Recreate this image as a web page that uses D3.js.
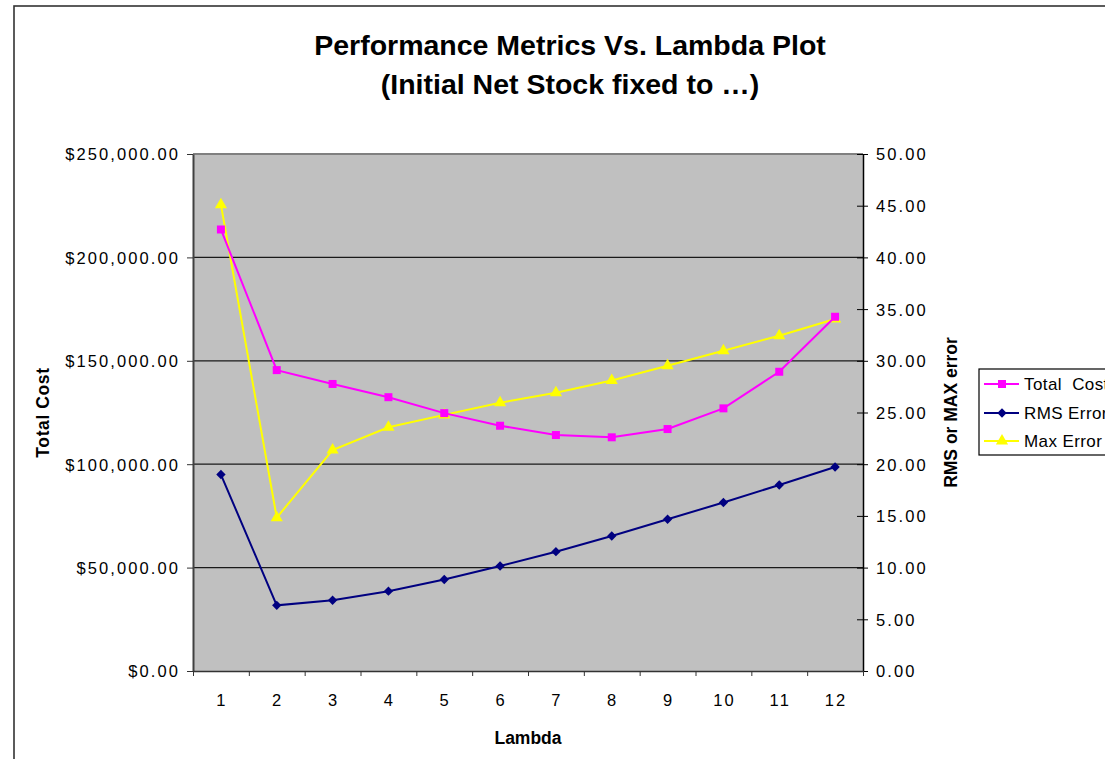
<!DOCTYPE html>
<html>
<head>
<meta charset="utf-8">
<script src="https://cdn.jsdelivr.net/npm/d3@7"></script>
<style>
  html, body { margin: 0; padding: 0; background: #fff; overflow: hidden; }
  svg { display: block; font-family: "Liberation Sans", Arial, sans-serif; }
</style>
</head>
<body>
<svg id="chart" width="1105" height="759"></svg>
<script>
// Lambda values on the category axis
const lambdas = [1, 2, 3, 4, 5, 6, 7, 8, 9, 10, 11, 12];
// Total cost per lambda (left axis, dollars)
const totalCost = [213500, 145500, 138800, 132400, 124700, 118600, 114100, 113000, 117000, 127000, 144700, 171300];
// RMS error per lambda (right axis)
const rmsError = [19.0, 6.35, 6.84, 7.72, 8.85, 10.15, 11.54, 13.06, 14.67, 16.30, 17.99, 19.73];
// Max error per lambda (right axis)
const maxError = [45.1, 14.83, 21.37, 23.57, 24.77, 25.95, 26.92, 28.10, 29.53, 30.98, 32.43, 34.04];
// Axis tick values
const costTicks = [0, 50000, 100000, 150000, 200000, 250000];
const errorTicks = [0, 5, 10, 15, 20, 25, 30, 35, 40, 45, 50];
const seriesNames = ["Total  Cost", "RMS Error", "Max Error"];

const svg = d3.select("#chart");
const plot = { left: 193, right: 863, top: 154, bottom: 671 };

const x = d3.scaleLinear().domain([0.5, 12.5]).range([plot.left, plot.right]);
const yCost = d3.scaleLinear().domain([0, 250000]).range([plot.bottom, plot.top]);
const yErr = d3.scaleLinear().domain([0, 50]).range([plot.bottom, plot.top]);

// Outer chart frame
svg.append("rect")
  .attr("x", 14).attr("y", 6).attr("width", 1200).attr("height", 800)
  .attr("fill", "#fff").attr("stroke", "#333").attr("stroke-width", 1.6);

// Title
const title = svg.append("text")
  .attr("text-anchor", "middle")
  .attr("font-size", 28.5).attr("font-weight", "bold").attr("fill", "#000");
title.append("tspan").attr("x", 570).attr("y", 55).text("Performance Metrics Vs. Lambda Plot");
title.append("tspan").attr("x", 570).attr("y", 94).text("(Initial Net Stock fixed to …)");

// Plot background
svg.append("rect")
  .attr("x", plot.left).attr("y", plot.top)
  .attr("width", plot.right - plot.left).attr("height", plot.bottom - plot.top)
  .attr("fill", "#c0c0c0");

// Horizontal gridlines at left-axis ticks
svg.append("g").selectAll("line")
  .data(costTicks.filter(d => d > 0 && d < 250000))
  .join("line")
  .attr("x1", plot.left).attr("x2", plot.right)
  .attr("y1", d => yCost(d)).attr("y2", d => yCost(d))
  .attr("stroke", "#1a1a1a").attr("stroke-width", 1.2);

// Top border of the plot area
svg.append("line")
  .attr("x1", plot.left).attr("x2", plot.right)
  .attr("y1", plot.top).attr("y2", plot.top)
  .attr("stroke", "#808080").attr("stroke-width", 2);

const tickFont = 16.5;
const tickSpacing = "2.1px";

// Left axis
const leftAxis = svg.append("g")
  .attr("transform", `translate(${plot.left},0)`)
  .call(d3.axisLeft(yCost).tickValues(costTicks).tickSize(6).tickSizeOuter(0)
    .tickFormat(d => "$" + d3.format(",.2f")(d)));
leftAxis.select(".domain").attr("stroke", "#404040").attr("stroke-width", 2);
leftAxis.selectAll(".tick line").attr("stroke", "#333");
leftAxis.selectAll(".tick text")
  .attr("x", -13).attr("dy", "0.36em")
  .attr("font-size", tickFont).attr("letter-spacing", tickSpacing)
  .attr("font-family", "Liberation Sans, Arial, sans-serif").attr("fill", "#000");

// Right axis (ticks cross the axis line)
const rightAxis = svg.append("g")
  .attr("transform", `translate(${plot.right},0)`)
  .call(d3.axisRight(yErr).tickValues(errorTicks).tickSize(5).tickSizeOuter(0)
    .tickFormat(d3.format(".2f")));
rightAxis.select(".domain").attr("stroke", "#000").attr("stroke-width", 1.5);
rightAxis.selectAll(".tick line").attr("x1", -6).attr("x2", 5).attr("stroke", "#000");
rightAxis.selectAll(".tick text")
  .attr("x", 13).attr("dy", "0.36em")
  .attr("font-size", tickFont).attr("letter-spacing", tickSpacing)
  .attr("font-family", "Liberation Sans, Arial, sans-serif").attr("fill", "#000");

// Bottom axis: tick marks between categories, labels at the categories
const boundaries = d3.range(0.5, 13, 1);
const bottomAxis = svg.append("g")
  .attr("transform", `translate(0,${plot.bottom})`)
  .call(d3.axisBottom(x).tickValues(boundaries).tickSize(5).tickSizeOuter(0).tickFormat(""));
bottomAxis.select(".domain").attr("stroke", "#333").attr("stroke-width", 1.5);
bottomAxis.selectAll(".tick line").attr("stroke", "#333");

svg.append("g").selectAll("text")
  .data(lambdas)
  .join("text")
  .attr("x", d => x(d) + 1).attr("y", plot.bottom + 35)
  .attr("text-anchor", "middle")
  .attr("font-size", tickFont).attr("letter-spacing", tickSpacing)
  .attr("fill", "#000")
  .text(d => d);

// Axis titles
const titleFont = 17.5;
svg.append("text")
  .attr("x", x(6.5)).attr("y", 744)
  .attr("text-anchor", "middle").attr("font-size", titleFont).attr("font-weight", "bold")
  .text("Lambda");
svg.append("text")
  .attr("transform", `translate(49,${(plot.top + plot.bottom) / 2}) rotate(-90)`)
  .attr("text-anchor", "middle").attr("font-size", titleFont).attr("font-weight", "bold")
  .attr("letter-spacing", "0.6px")
  .text("Total Cost");
svg.append("text")
  .attr("transform", `translate(957,${(plot.top + plot.bottom) / 2}) rotate(-90)`)
  .attr("text-anchor", "middle").attr("font-size", titleFont).attr("font-weight", "bold")
  .text("RMS or MAX error");

// Marker shapes (the diamond is a square turned 45 degrees)
const squareDiamond = {
  draw(context, size) {
    const r = Math.sqrt(size / 2);
    context.moveTo(0, -r);
    context.lineTo(r, 0);
    context.lineTo(0, r);
    context.lineTo(-r, 0);
    context.closePath();
  }
};
const symSquare = d3.symbol().type(d3.symbolSquare).size(64);
const symDiamond = d3.symbol().type(squareDiamond).size(44);
const symTriangle = d3.symbol().type(d3.symbolTriangle).size(64);

const series = [
  { name: seriesNames[0], values: totalCost, y: yCost, color: "#ff00ff", sym: symSquare },
  { name: seriesNames[1], values: rmsError, y: yErr, color: "#000080", sym: symDiamond },
  { name: seriesNames[2], values: maxError, y: yErr, color: "#ffff00", sym: symTriangle }
];

// Lines and markers, drawn so Total Cost sits on top
[series[1], series[2], series[0]].forEach(s => {
  const pts = lambdas.map((l, i) => [x(l), s.y(s.values[i])]);
  svg.append("path")
    .attr("d", d3.line()(pts))
    .attr("fill", "none").attr("stroke", s.color).attr("stroke-width", 2);
  svg.append("g").selectAll("path")
    .data(pts)
    .join("path")
    .attr("transform", d => `translate(${d[0]},${d[1]})`)
    .attr("d", s.sym())
    .attr("fill", s.color);
});

// Legend
const legend = svg.append("g");
legend.append("rect")
  .attr("x", 979).attr("y", 369).attr("width", 200).attr("height", 86)
  .attr("fill", "#fff").attr("stroke", "#000").attr("stroke-width", 1.2);
const rowY = [384, 413, 441];
series.forEach((s, i) => {
  legend.append("line")
    .attr("x1", 984).attr("x2", 1019).attr("y1", rowY[i]).attr("y2", rowY[i])
    .attr("stroke", s.color).attr("stroke-width", 2);
  legend.append("path")
    .attr("transform", `translate(1002,${rowY[i]})`)
    .attr("d", s.sym())
    .attr("fill", s.color);
  legend.append("text")
    .attr("x", 1024).attr("y", rowY[i]).attr("dy", "0.36em")
    .attr("font-size", 17).attr("letter-spacing", "0.4px")
    .style("white-space", "pre")
    .text(s.name);
});
</script>
</body>
</html>
